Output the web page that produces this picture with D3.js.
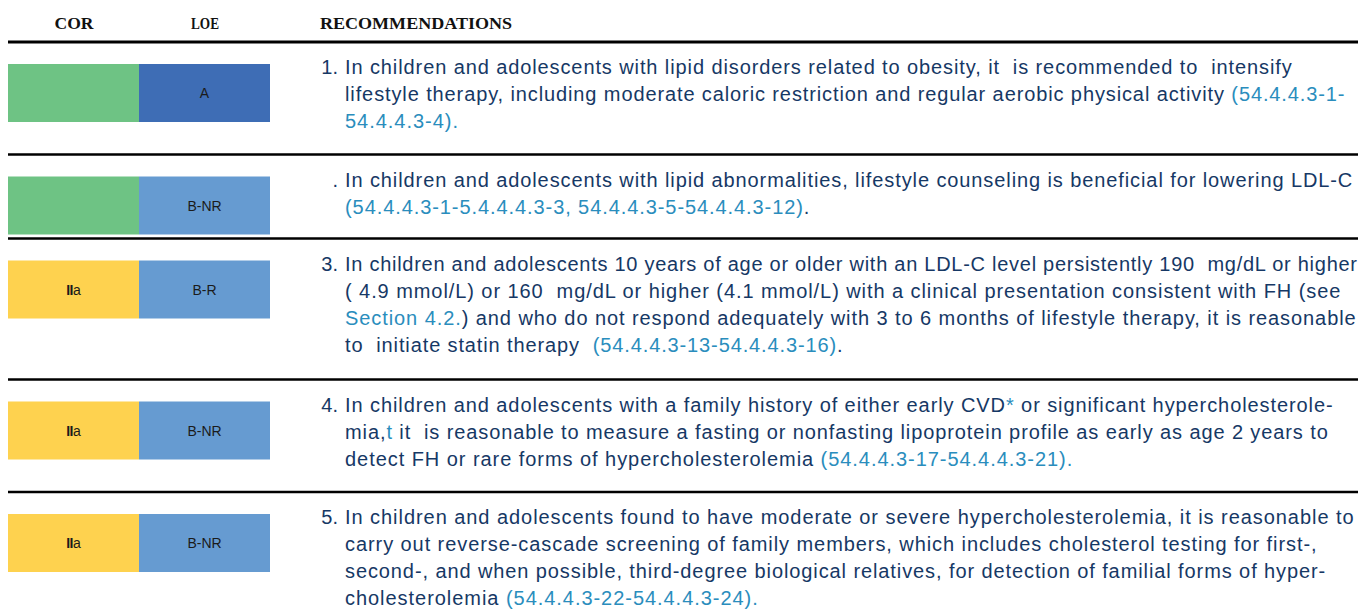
<!DOCTYPE html>
<html>
<head>
<meta charset="utf-8">
<script src="https://cdn.jsdelivr.net/npm/d3@7"></script>
<style>
  body { margin: 0; background: #fff; }
  svg { display: block; }
</style>
</head>
<body>
<div id="table"></div>
<script>
// ---- data ----
var headers = ["COR", "LOE", "RECOMMENDATIONS"];
var corClass = ["I", "I", "IIa", "IIa", "IIa"];
var corText = ["", "", "IIa", "IIa", "IIa"];
var loeLabels = ["A", "B-NR", "B-R", "B-NR", "B-NR"];
var recNumbers = ["1.", ".", "3.", "4.", "5."];
// {...} marks a citation (teal)
var recLines = [
  [
    "In children and adolescents with lipid disorders related to obesity, it  is recommended to  intensify",
    "lifestyle therapy, including moderate caloric restriction and regular aerobic physical activity {(54.4.4.3-1-}",
    "{54.4.4.3-4).}"
  ],
  [
    "In children and adolescents with lipid abnormalities, lifestyle counseling is beneficial for lowering LDL-C",
    "{(54.4.4.3-1-5.4.4.4.3-3, 54.4.4.3-5-54.4.4.3-12)}."
  ],
  [
    "In children and adolescents 10 years of age or older with an LDL-C level persistently 190  mg/dL or higher",
    "( 4.9 mmol/L) or 160  mg/dL or higher (4.1 mmol/L) with a clinical presentation consistent with FH (see",
    "{Section 4.2.}) and who do not respond adequately with 3 to 6 months of lifestyle therapy, it is reasonable",
    "to  initiate statin therapy  {(54.4.4.3-13-54.4.4.3-16)}."
  ],
  [
    "In children and adolescents with a family history of either early CVD{*} or significant hypercholesterole-",
    "mia,{t} it  is reasonable to measure a fasting or nonfasting lipoprotein profile as early as age 2 years to",
    "detect FH or rare forms of hypercholesterolemia {(54.4.4.3-17-54.4.4.3-21).}"
  ],
  [
    "In children and adolescents found to have moderate or severe hypercholesterolemia, it is reasonable to",
    "carry out reverse-cascade screening of family members, which includes cholesterol testing for first-,",
    "second-, and when possible, third-degree biological relatives, for detection of familial forms of hyper-",
    "cholesterolemia {(54.4.4.3-22-54.4.4.3-24).}"
  ]
];

// ---- layout ----
var width = 1370, height = 611;
var left = 8, right = 1358;
var headerRule = 42;
var lineH = 27;
var rowH = recLines.map(function(l) { return 28.5 * l.length + 27; });
var rowTop = [];
rowH.reduce(function(acc, h) { rowTop.push(acc); return acc + h; }, headerRule);

var colX = d3.scaleOrdinal().domain(["cor", "loe"]).range([8, 139]);
var boxW = 131, boxH = 58, boxY = 22, textY = 32;
var corColor = d3.scaleOrdinal().domain(["I", "IIa"]).range(["#6ec384", "#fed24f"]);
var loeColor = d3.scaleOrdinal().domain(["A", "B-NR", "B-R"]).range(["#3e6db5", "#669bd1", "#669bd1"]);

var textColor = "#163865", citeColor = "#2a8dbd";
var bodyFont = "'Liberation Sans', Arial, sans-serif";
var textX = 345, textRight = 1357, spread = 1.105;

var svg = d3.select("#table").append("svg")
    .attr("width", width)
    .attr("height", height)
    .attr("viewBox", [0, 0, width, height]);

// header
var headX = [74, 205, 320];
var headW = [39, 28, 192];
svg.append("g").selectAll("text")
  .data(headers)
  .enter().append("text")
    .attr("x", function(d, i) { return headX[i]; })
    .attr("y", 29)
    .attr("text-anchor", function(d, i) { return i < 2 ? "middle" : "start"; })
    .attr("textLength", function(d, i) { return headW[i]; })
    .attr("lengthAdjust", "spacingAndGlyphs")
    .style("font-family", "'Liberation Serif', 'Times New Roman', serif")
    .style("font-weight", "bold")
    .style("font-size", "17px")
    .style("fill", "#111")
    .text(function(d) { return d; });

// rules
svg.append("line")
    .attr("x1", left).attr("x2", right)
    .attr("y1", headerRule).attr("y2", headerRule)
    .attr("stroke", "#000").attr("stroke-width", 3);

svg.append("g").selectAll("line")
  .data(rowTop.slice(1))
  .enter().append("line")
    .attr("x1", left).attr("x2", right)
    .attr("y1", function(d) { return d; })
    .attr("y2", function(d) { return d; })
    .attr("stroke", "#000")
    .attr("stroke-width", 2.5);

// rows
var rows = svg.append("g").selectAll("g.row")
  .data(recLines)
  .enter().append("g")
    .attr("class", "row")
    .attr("transform", function(d, i) { return "translate(0," + rowTop[i] + ")"; });

rows.append("rect")
    .attr("x", colX("cor"))
    .attr("y", boxY)
    .attr("width", boxW)
    .attr("height", boxH)
    .attr("fill", function(d, i) { return corColor(corClass[i]); });

rows.append("rect")
    .attr("x", colX("loe"))
    .attr("y", boxY)
    .attr("width", boxW)
    .attr("height", boxH)
    .attr("fill", function(d, i) { return loeColor(loeLabels[i]); });

var cor = rows.append("text")
    .attr("x", colX("cor") + boxW / 2)
    .attr("y", boxY + boxH / 2 + 5)
    .attr("text-anchor", "middle")
    .style("font-family", bodyFont)
    .style("font-size", "14px")
    .style("fill", "#1b1b1b");
cor.append("tspan")
    .style("font-weight", "bold")
    .attr("letter-spacing", -0.5)
    .text(function(d, i) { return corText[i].replace(/a$/, ""); });
cor.append("tspan")
    .text(function(d, i) { return corText[i] ? "a" : ""; });

rows.append("text")
    .attr("x", colX("loe") + boxW / 2)
    .attr("y", boxY + boxH / 2 + 5)
    .attr("text-anchor", "middle")
    .style("font-family", bodyFont)
    .style("font-size", "14px")
    .style("fill", "#1b1b1b")
    .text(function(d, i) { return loeLabels[i]; });

rows.append("text")
    .attr("x", textX - 7)
    .attr("y", textY)
    .attr("text-anchor", "end")
    .style("font-family", bodyFont)
    .style("font-size", "20px")
    .style("fill", textColor)
    .text(function(d, i) { return recNumbers[i]; });

rows.each(function(lines) {
  var g = d3.select(this);
  lines.forEach(function(line, j) {
    var t = g.append("text")
        .attr("x", textX)
        .attr("y", textY + j * lineH)
        .attr("xml:space", "preserve")
        .style("white-space", "pre")
        .style("font-family", bodyFont)
        .style("font-size", "20px");
    line.split(/(\{[^}]*\})/).filter(function(s) { return s.length; }).forEach(function(seg) {
      var cite = seg.charAt(0) === "{";
      t.append("tspan")
          .style("fill", cite ? citeColor : textColor)
          .text(cite ? seg.slice(1, -1) : seg);
    });
    // stretch a little to match the wider set of the source
    var w = t.node().getComputedTextLength();
    t.attr("textLength", Math.min(w * spread, textRight - textX))
     .attr("lengthAdjust", "spacing");
  });
});
</script>
</body>
</html>
